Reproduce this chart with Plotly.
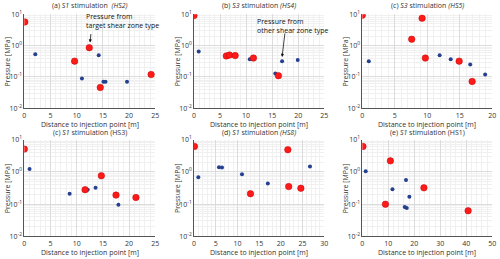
import plotly.graph_objects as go

# ---- data (distance [m], pressure [MPa]) ----
titles = [
    "(a) <i>S1</i> stimulation  <i>(HS2)</i>",
    "(b) <i>S3</i> stimulation <i>(HS4)</i>",
    "(c) <i>S3</i> stimulation <i>(HS5)</i>",
    "(c) <i>S1</i> stimulation (HS3)",
    "(d) <i>S1</i> stimulation <i>(HS8)</i>",
    "(e) <i>S1</i> stimulation (HS1)",
]
x_title = "Distance to injection point [m]"
y_title = "Pressure [MPa]"
x_max = [25, 25, 20, 25, 30, 50]
x_dtick = [5, 5, 5, 5, 5, 10]
x_minor = [1, 1, 1, 1, 1, 2]

a_red_x = [0.1, 9.6, 12.4, 14.5, 24.2]
a_red_y = [5.7, 0.32, 0.86, 0.046, 0.12]
a_blue_x = [2.1, 11.0, 14.2, 15.1, 15.5, 19.6]
a_blue_y = [0.53, 0.089, 0.49, 0.071, 0.071, 0.071]

b_red_x = [0.0, 6.2, 6.8, 7.9, 11.4, 16.2]
b_red_y = [9.1, 0.47, 0.50, 0.48, 0.40, 0.11]
b_blue_x = [0.9, 10.7, 15.6, 16.9, 19.9]
b_blue_y = [0.65, 0.37, 0.13, 0.32, 0.35]

c_red_x = [0.0, 9.2, 7.6, 9.7, 14.9, 16.9]
c_red_y = [9.3, 7.5, 1.6, 0.40, 0.32, 0.072]
c_blue_x = [1.0, 11.9, 13.6, 16.6, 18.9]
c_blue_y = [0.32, 0.49, 0.37, 0.25, 0.12]

d_red_x = [0.0, 11.6, 14.7, 17.5, 21.3]
d_red_y = [5.1, 0.28, 0.76, 0.19, 0.16]
d_blue_x = [1.0, 8.65, 12.1, 13.6, 17.96]
d_blue_y = [1.23, 0.21, 0.28, 0.32, 0.096]

e_red_x = [0.1, 13.0, 21.6, 21.8, 24.6]
e_red_y = [6.2, 0.21, 4.9, 0.35, 0.31]
e_blue_x = [1.0, 5.75, 6.45, 11.05, 17.0, 26.7]
e_blue_y = [0.68, 1.39, 1.36, 0.84, 0.44, 1.48]

f_red_x = [0.25, 10.8, 23.7, 8.9, 40.7]
f_red_y = [6.2, 2.2, 0.32, 0.099, 0.062]
f_blue_x = [1.3, 11.6, 16.8, 18.1, 16.3, 17.1]
f_blue_y = [1.04, 0.29, 0.56, 0.17, 0.082, 0.076]

reds = [(a_red_x, a_red_y), (b_red_x, b_red_y), (c_red_x, c_red_y),
        (d_red_x, d_red_y), (e_red_x, e_red_y), (f_red_x, f_red_y)]
blues = [(a_blue_x, a_blue_y), (b_blue_x, b_blue_y), (c_blue_x, c_blue_y),
         (d_blue_x, d_blue_y), (e_blue_x, e_blue_y), (f_blue_x, f_blue_y)]

y_tickvals = [0.01, 0.1, 1, 10]
y_ticktext = ["10<sup>-2</sup>", "10<sup>-1</sup>", "10<sup>0</sup>", "10<sup>1</sup>"]

# ---- layout geometry ----
W, H = 500, 259
x_doms = [[24.3 / W, 155.3 / W], [194 / W, 324.3 / W], [362.3 / W, 492.3 / W]]
y_doms = [[1 - 108.3 / H, 1 - 14.3 / H], [1 - 236.3 / H, 1 - 139.7 / H]]
title_shift = [8.5, 7.5]
xtitle_shift = [-16, -16]

RED = "#ff1a1a"
BLUE = "#24408f"
TXT = "#333333"
FONT = "Open Sans"

fig = go.Figure()
layout = dict(
    width=W, height=H, margin=dict(l=0, r=0, t=0, b=0, autoexpand=False),
    paper_bgcolor="white", plot_bgcolor="white", showlegend=False,
    font=dict(family=FONT, size=7, color=TXT),
)
annotations = []

for i in range(6):
    r, c = divmod(i, 3)
    xa = "xaxis" if i == 0 else f"xaxis{i+1}"
    ya = "yaxis" if i == 0 else f"yaxis{i+1}"
    xr = "x" if i == 0 else f"x{i+1}"
    yr = "y" if i == 0 else f"y{i+1}"
    fig.add_trace(go.Scatter(x=blues[i][0], y=blues[i][1], mode="markers",
                             marker=dict(color=BLUE, size=4), xaxis=xr, yaxis=yr))
    fig.add_trace(go.Scatter(x=reds[i][0], y=reds[i][1], mode="markers",
                             marker=dict(color=RED, size=6.5,
                                         line=dict(color="#c00000", width=0.5)),
                             xaxis=xr, yaxis=yr))
    layout[xa] = dict(
        domain=x_doms[c], anchor=yr, range=[0, x_max[i]], dtick=x_dtick[i],
        showgrid=True, gridcolor="#dcdcdc", gridwidth=0.6,
        minor=dict(dtick=x_minor[i], showgrid=True, gridcolor="#f0f0f0", gridwidth=0.5),
        showline=True, linecolor="#555555", linewidth=0.8, zeroline=False,
        ticks="", tickfont=dict(size=7, color=TXT), automargin=False,
    )
    layout[ya] = dict(
        domain=y_doms[r], anchor=xr, type="log", range=[-2, 1],
        tickvals=y_tickvals, ticktext=y_ticktext,
        showgrid=True, gridcolor="#dcdcdc", gridwidth=0.6,
        minor=dict(dtick="D1", showgrid=True, gridcolor="#f0f0f0", gridwidth=0.5),
        showline=True, linecolor="#555555", linewidth=0.8, zeroline=False,
        ticks="", tickfont=dict(size=7, color=TXT), automargin=False,
    )
    # panel title
    annotations.append(dict(
        text=titles[i], xref=f"{xr} domain", yref=f"{yr} domain",
        x=0.5, y=1.0, yshift=title_shift[r], xanchor="center", yanchor="middle",
        showarrow=False, font=dict(size=7, color=TXT),
    ))
    # x-axis title
    annotations.append(dict(
        text=x_title, xref=f"{xr} domain", yref=f"{yr} domain",
        x=0.5, y=0.0, yshift=xtitle_shift[r], xanchor="center", yanchor="middle",
        showarrow=False, font=dict(size=7, color=TXT),
    ))
    # y-axis title
    annotations.append(dict(
        text=y_title, xref=f"{xr} domain", yref=f"{yr} domain",
        x=0.0, y=0.5, xshift=-17, xanchor="center", yanchor="middle",
        textangle=-90, showarrow=False, font=dict(size=7, color=TXT),
    ))

# callouts
annotations.append(dict(text="Pressure from<br>target shear zone type", xref="x", yref="y",
                        x=11.4, y=0.786, xanchor="left", yanchor="middle", align="left",
                        showarrow=False, font=dict(size=7, color="#111111")))
annotations.append(dict(text="", xref="x", yref="y", x=12.55, y=0.1,
                        ax=1, ay=-10, showarrow=True, arrowhead=2, arrowsize=0.8,
                        arrowwidth=0.8, arrowcolor="#111111"))
annotations.append(dict(text="Pressure from<br>other shear zone type", xref="x2", yref="y2",
                        x=11.7, y=0.64, xanchor="left", yanchor="middle", align="left",
                        showarrow=False, font=dict(size=7, color="#111111")))
annotations.append(dict(text="", xref="x2", yref="y2", x=16.9, y=-0.36,
                        ax=3, ay=-25, showarrow=True, arrowhead=2, arrowsize=0.8,
                        arrowwidth=0.8, arrowcolor="#111111"))

layout["annotations"] = annotations
fig.update_layout(**layout)
fig.write_html("out.html", config={"displayModeBar": False},
               post_script="document.body.style.margin='0';document.body.style.overflow='hidden';")
